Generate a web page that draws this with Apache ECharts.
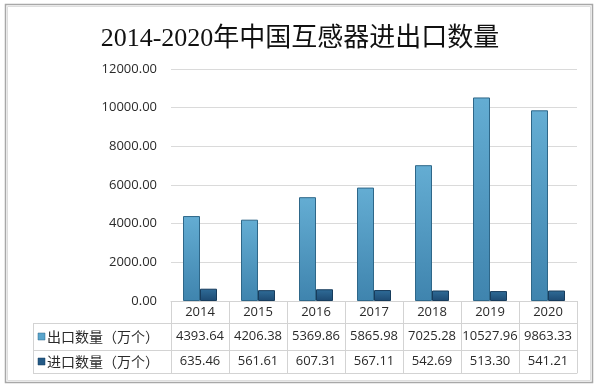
<!DOCTYPE html>
<html>
<head>
<meta charset="utf-8">
<script src="https://cdn.jsdelivr.net/npm/echarts@6/dist/echarts.min.js"></script>
<style>html,body{margin:0;padding:0;background:#fff;}#c{width:600px;height:388px;}</style>
</head>
<body>
<div id="c"></div>
<script>
const titleText = '2014-2020年中国互感器进出口数量';
const categories = ['2014', '2015', '2016', '2017', '2018', '2019', '2020'];
const seriesNames = ['出口数量（万个）', '进口数量（万个）'];
const exportValues = [4393.64, 4206.38, 5369.86, 5865.98, 7025.28, 10527.96, 9863.33];
const importValues = [635.46, 561.61, 607.31, 567.11, 542.69, 513.30, 541.21];
const yTicks = { min: 0, max: 12000, interval: 2000 };

const latin = '"Open Sans", "Noto Sans CJK SC", sans-serif';
const cjk = '"Noto Sans CJK SC", sans-serif';
const lineColor = '#d3d3d3';
const textColor = '#2a2a2a';
const exportColor = '#5aa5cc';
const importColor = '#245a86';

const GL = 171, GR = 577, AX = 301;
const rowTops = [323, 350, 373];

const chart = echarts.init(document.getElementById('c'));

function tableAxis(idx, offset, data, tickLen, margin, fontSize, showLine) {
  return {
    type: 'category', position: 'bottom', gridIndex: 0, offset: offset,
    data: data,
    axisLine: { show: showLine !== false, lineStyle: { color: lineColor, width: 1 } },
    axisTick: { show: tickLen > 0, interval: 0, length: tickLen, lineStyle: { color: lineColor, width: 1 } },
    axisLabel: { show: tickLen > 0, interval: 0, margin: margin, fontFamily: latin, fontSize: fontSize, color: textColor },
    splitLine: { show: false }
  };
}

const option = {
  animation: false,
  backgroundColor: '#fff',
  title: {
    text: titleText, left: 'center', top: 21,
    textStyle: { fontFamily: '"Liberation Serif", "Noto Sans CJK SC", serif', fontSize: 26, fontWeight: 'normal', color: '#111' }
  },
  grid: { left: GL, right: 600 - GR, top: 69, bottom: 388 - AX, containLabel: false },
  yAxis: {
    type: 'value', min: yTicks.min, max: yTicks.max, interval: yTicks.interval,
    axisLine: { show: false }, axisTick: { show: false },
    axisLabel: { margin: 14, fontFamily: latin, fontSize: 13, color: textColor, formatter: v => v.toFixed(2) },
    splitLine: { lineStyle: { color: '#dadada', width: 1 } }
  },
  xAxis: [
    tableAxis(0, 0, categories, 22, 5, 13),
    tableAxis(1, 22, exportValues.map(v => v.toFixed(2)), 27, 7, 13),
    tableAxis(2, 49, importValues.map(v => v.toFixed(2)), 23, 5, 13),
    tableAxis(3, 72, categories, 0, 0, 12)
  ],
  series: [
    {
      name: seriesNames[0], type: 'bar', xAxisIndex: 0, data: exportValues,
      barWidth: 17, barGap: '0%',
      itemStyle: {
        color: new echarts.graphic.LinearGradient(0, 0, 0, 1, [
          { offset: 0, color: '#64add3' }, { offset: 1, color: '#3f84ae' }
        ]),
        borderColor: '#2e6789', borderWidth: 1
      }
    },
    {
      name: seriesNames[1], type: 'bar', xAxisIndex: 0, data: importValues,
      barWidth: 17, barGap: '0%',
      itemStyle: {
        color: new echarts.graphic.LinearGradient(0, 0, 0, 1, [
          { offset: 0, color: '#2f6c98' }, { offset: 1, color: '#1d4a72' }
        ]),
        borderColor: '#173c5c', borderWidth: 1
      }
    }
  ],
  graphic: [
    { type: 'rect', shape: { x: 5.5, y: 4.5, width: 587, height: 378 }, style: { fill: null, stroke: '#a8a8a8', lineWidth: 1.5 }, silent: true },
    { type: 'rect', shape: { x: 7.5, y: 6.5, width: 583, height: 374 }, style: { fill: null, stroke: '#dedede', lineWidth: 1 }, silent: true },
    { type: 'line', shape: { x1: 33, y1: rowTops[0] + 0.5, x2: GL, y2: rowTops[0] + 0.5 }, style: { stroke: lineColor, lineWidth: 1 } },
    { type: 'line', shape: { x1: 33, y1: rowTops[1] + 0.5, x2: GL, y2: rowTops[1] + 0.5 }, style: { stroke: lineColor, lineWidth: 1 } },
    { type: 'line', shape: { x1: 33, y1: rowTops[2] + 0.5, x2: GL, y2: rowTops[2] + 0.5 }, style: { stroke: lineColor, lineWidth: 1 } },
    { type: 'line', shape: { x1: 33.5, y1: rowTops[0], x2: 33.5, y2: rowTops[2] }, style: { stroke: lineColor, lineWidth: 1 } },
    { type: 'rect', shape: { x: 38, y: 333, width: 7, height: 7 }, style: { fill: exportColor, stroke: '#2e6789', lineWidth: 0.5 } },
    { type: 'rect', shape: { x: 38, y: 358, width: 7, height: 7 }, style: { fill: importColor, stroke: '#173c5c', lineWidth: 0.5 } },
    { type: 'text', x: 47, y: 337, style: { text: seriesNames[0], fontFamily: cjk, fontSize: 14, fill: textColor, verticalAlign: 'middle', align: 'left' } },
    { type: 'text', x: 47, y: 362, style: { text: seriesNames[1], fontFamily: cjk, fontSize: 14, fill: textColor, verticalAlign: 'middle', align: 'left' } }
  ]
};
chart.setOption(option);
</script>
</body>
</html>
